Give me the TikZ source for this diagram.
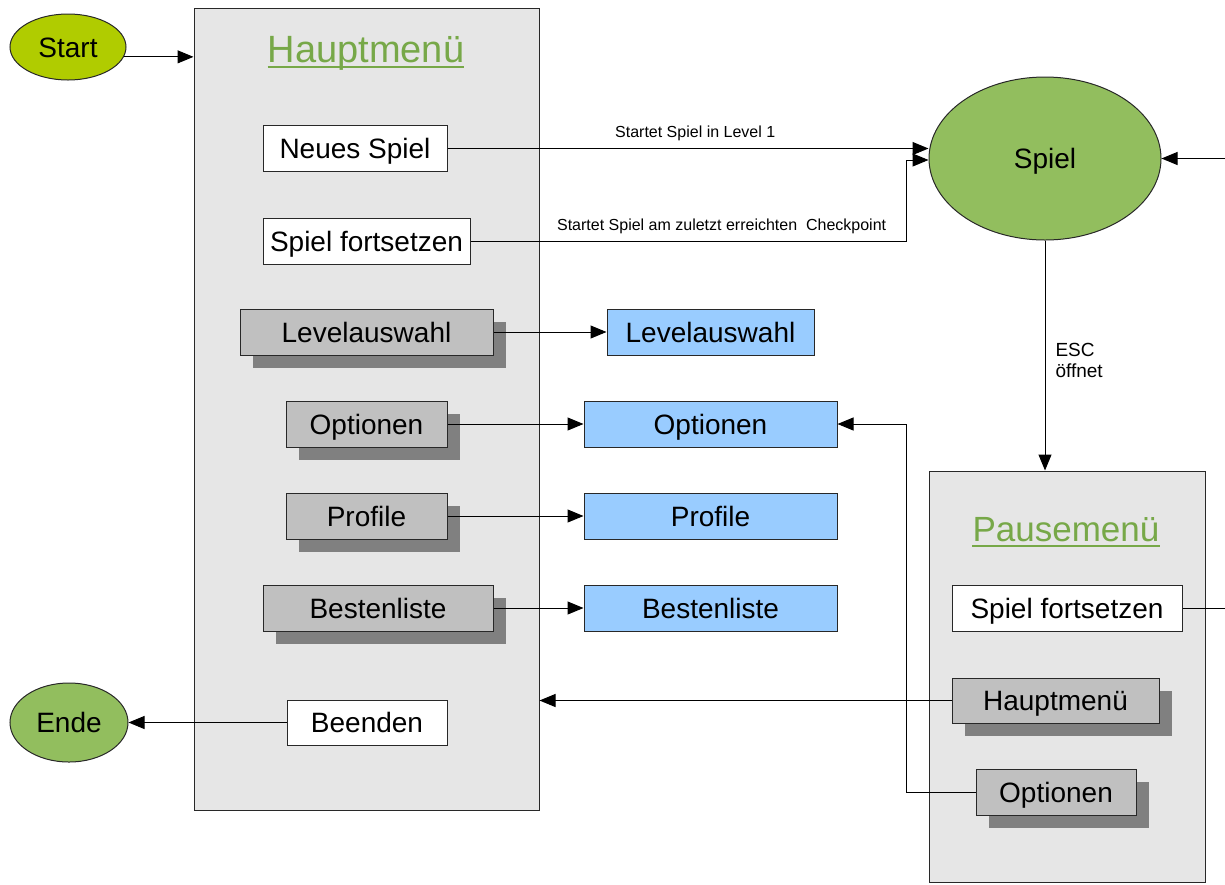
\documentclass[tikz,border=0pt]{standalone}
\usepackage{fontspec}
\setmainfont{Liberation Sans}
\usetikzlibrary{arrows.meta,shapes.geometric,shadows}
\definecolor{menubg}{RGB}{230,230,230}
\definecolor{btngray}{RGB}{192,192,192}
\definecolor{shadowgray}{RGB}{128,128,128}
\definecolor{btnblue}{RGB}{153,204,255}
\definecolor{titlegreen}{RGB}{119,168,72}
\definecolor{startgreen}{RGB}{176,204,0}
\definecolor{nodegreen}{RGB}{146,190,94}
\definecolor{linecol}{RGB}{40,40,40}
\tikzset{
  menu/.style={draw=linecol, line width=1pt, fill=menubg, inner sep=0pt},
  btn/.style={draw=linecol, line width=1pt, inner sep=0pt, minimum height=46pt,
    text height=20pt, text depth=0pt, font=\fontsize{28}{32}\selectfont},
  wbtn/.style={btn, fill=white},
  gbtn/.style={btn, fill=btngray, drop shadow={shadow xshift=13pt, shadow yshift=-13pt, fill=shadowgray, opacity=1}},
  bbtn/.style={btn, fill=btnblue},
  oval/.style={ellipse, draw=linecol, line width=1pt, inner sep=0pt, text height=20pt, text depth=0pt,
    font=\fontsize{28}{32}\selectfont},
  arr/.style={draw=black, line width=1pt, -{Triangle[length=16pt,width=13pt]}},
  lbl/.style={font=\fontsize{16}{18}\selectfont, inner sep=0pt},
  title/.style={text=titlegreen, inner sep=0pt, anchor=base},
  uline/.style={draw=titlegreen, line width=2pt}
}
\begin{document}
\begin{tikzpicture}[x=1pt,y=-1pt]
\useasboundingbox (0,0) rectangle (1225,884);
\clip (0,0) rectangle (1225,884);
% Menus
\node[menu, minimum width=345pt, minimum height=802pt] (hm) at (366.5,409) {};
\node[menu, minimum width=276pt, minimum height=411pt] (pm) at (1067,676.5) {};
\node[title, font=\fontsize{38}{40}\selectfont] (hmt) at (366,62) {Hauptmenü};
\draw[uline] ([yshift=-5pt]hmt.base west) -- ([yshift=-5pt]hmt.base east);
\node[title, font=\fontsize{35}{38}\selectfont] (pmt) at (1066,541) {Pausemenü};
\draw[uline] ([yshift=-5pt]pmt.base west) -- ([yshift=-5pt]pmt.base east);
% Start / End / Spiel
\node[oval, fill=startgreen, minimum width=116pt, minimum height=66pt] (start) at (68,47) {Start};
\node[oval, fill=nodegreen, minimum width=118pt, minimum height=79pt] (ende) at (69,722.5) {Ende};
\node[oval, fill=nodegreen, minimum width=232pt, minimum height=163pt] (spiel) at (1045,158.5) {Spiel};
% Hauptmenu buttons
\node[wbtn, minimum width=184pt] (ns) at (355,148.5) {Neues Spiel};
\node[wbtn, minimum width=207pt] (sf) at (366.5,241) {Spiel fortsetzen};
\node[gbtn, minimum width=253pt] (lv) at (366.5,332) {Levelauswahl};
\node[gbtn, minimum width=161pt] (op) at (366.5,424) {Optionen};
\node[gbtn, minimum width=161pt] (pr) at (366.5,516) {Profile};
\node[gbtn, minimum width=230pt] (bl) at (378,608) {Bestenliste};
\node[wbtn, minimum width=160pt, minimum height=45pt] (be) at (367,722.5) {Beenden};
% Submenus
\node[bbtn, minimum width=207pt] (blv) at (710.5,332) {Levelauswahl};
\node[bbtn, minimum width=253pt] (bop) at (710.5,424) {Optionen};
\node[bbtn, minimum width=253pt] (bpr) at (710.5,516) {Profile};
\node[bbtn, minimum width=253pt] (bbl) at (710.5,608) {Bestenliste};
% Pausemenu buttons
\node[wbtn, minimum width=230pt] (psf) at (1067,608) {Spiel fortsetzen};
\node[gbtn, minimum width=207pt, minimum height=45pt] (phm) at (1055.5,700.5) {Hauptmenü};
\node[gbtn, minimum width=160pt] (pop) at (1056,792) {Optionen};
% Connectors
\draw[arr] (start.-10) -- (start.-10 -| hm.west);
\draw[arr] (ns.east) -- node[lbl, pos=0.515, above=7pt] {Startet Spiel in Level 1} (ns.east -| spiel.west);
\draw[arr] (sf.east) -| node[lbl, pos=0.288, above=7pt] {Startet Spiel am zuletzt erreichten\ \ Checkpoint}
  ([xshift=-22pt,yshift=-1.5pt]spiel.west) -- ([yshift=-1.5pt]spiel.west);
\draw[arr] (lv.east) -- (blv.west);
\draw[arr] (op.east) -- (bop.west);
\draw[arr] (pr.east) -- (bpr.west);
\draw[arr] (bl.east) -- (bbl.west);
\draw[arr] (be.west) -- (ende.east);
\draw[arr] (spiel.south) -- node[lbl, right=10pt, align=left, font=\fontsize{19}{21}\selectfont, pos=0.52] {ESC\\öffnet} (spiel.south |- pm.north);
\draw[arr] (phm.west) -- (phm.west -| hm.east);
\draw[arr] (pop.west) -- ++(-69,0) |- (bop.east);
\draw[arr] (psf.east) -- ++(60,0) |- (spiel.east);
\end{tikzpicture}
\end{document}
